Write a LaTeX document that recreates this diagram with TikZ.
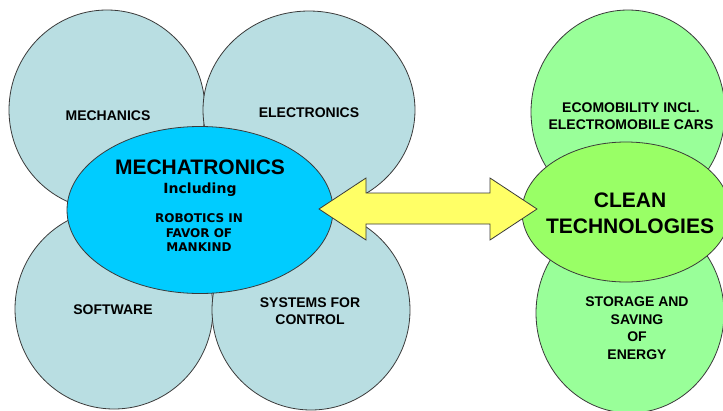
\documentclass[tikz,border=0pt]{standalone}
\usepackage{fontspec}
\setmainfont{Liberation Sans}
\newfontfamily\verd{DejaVu Sans}
\definecolor{paleblue}{HTML}{B9DEE2}
\definecolor{mechblue}{HTML}{00CCFF}
\definecolor{palegreen}{HTML}{99FF99}
\definecolor{cleangreen}{HTML}{99FF66}
\definecolor{arrowyellow}{HTML}{FFFF66}
\definecolor{outline}{HTML}{3A3A3A}
\tikzset{
  blob/.style={ellipse, draw=outline, line width=0.8pt, inner sep=0pt},
  topic/.style={font=\bfseries\fontsize{14}{17.5}\selectfont, align=center, inner sep=0pt},
  core/.style={font=\bfseries\fontsize{21}{26}\selectfont, align=center, inner sep=0pt},
  sub/.style={font=\verd\bfseries\fontsize{12}{14.5}\selectfont, align=center, inner sep=0pt},
  linkarrow/.style={fill=arrowyellow, draw=outline, line width=0.8pt, line join=miter},
}
\usetikzlibrary{shapes.geometric}
\begin{document}
\begin{tikzpicture}[x=1pt, y=-1pt]
\useasboundingbox (0,0) rectangle (723,410);
\clip (0,0) rectangle (723,410);
\fill[white] (0,0) rectangle (723,410);

% surrounding disciplines
\node[blob, fill=paleblue, minimum width=196pt, minimum height=200pt] (mechc) at (107,110) {};
\node[blob, fill=paleblue, minimum width=198pt, minimum height=200pt] (softc) at (114,309) {};
\node[blob, fill=paleblue, minimum width=198pt, minimum height=200pt] (sysc) at (311,310) {};
\node[blob, fill=paleblue, minimum width=212pt, minimum height=198pt] (elecc) at (309,110) {};

\node[topic] (mechanics) at (108,116) {MECHANICS};
\node[topic] (electronics) at (309,113) {ELECTRONICS};
\node[topic] (software) at (113,310) {SOFTWARE};
\node[topic] (systems) at (310,311) {SYSTEMS FOR\\CONTROL};

% central mechatronics ellipse
\node[blob, fill=mechblue, minimum width=266pt, minimum height=167pt] (mechatronics) at (200,210) {};
\node[core] (mtitle) at (200,167) {MECHATRONICS};
\node[sub, font=\verd\bfseries\fontsize{14}{17}\selectfont] (incl) at (200,190) {Including};
\node[sub] (robotics) at (199,233) {ROBOTICS IN\\FAVOR OF\\MANKIND};

% clean technologies group
\node[blob, fill=palegreen, minimum width=194pt, minimum height=204pt] (ecoc) at (628,112) {};
\node[blob, fill=palegreen, minimum width=188pt, minimum height=200pt] (storc) at (630,313) {};
\node[topic] (eco) at (631,116) {ECOMOBILITY INCL.\\ELECTROMOBILE CARS};
\node[topic] (storage) at (637,328) {STORAGE AND\\SAVING\\OF\\ENERGY};

\node[blob, fill=cleangreen, minimum width=208pt, minimum height=140pt] (clean) at (626,212) {};
\node[core, font=\bfseries\fontsize{21}{26}\selectfont] (ctitle) at (630,213) {CLEAN\\TECHNOLOGIES};

% two-headed link between the two groups
\coordinate (ltip) at (319,209);
\coordinate (rtip) at (537,209);
\draw[linkarrow] (ltip) -- ++(47,-31) -- ++(0,15) -- ++(124,0) -- ++(0,-15)
  -- (rtip) -- ++(-47,31) -- ++(0,-16) -- ++(-124,0) -- ++(0,16) -- cycle;
\end{tikzpicture}
\end{document}
